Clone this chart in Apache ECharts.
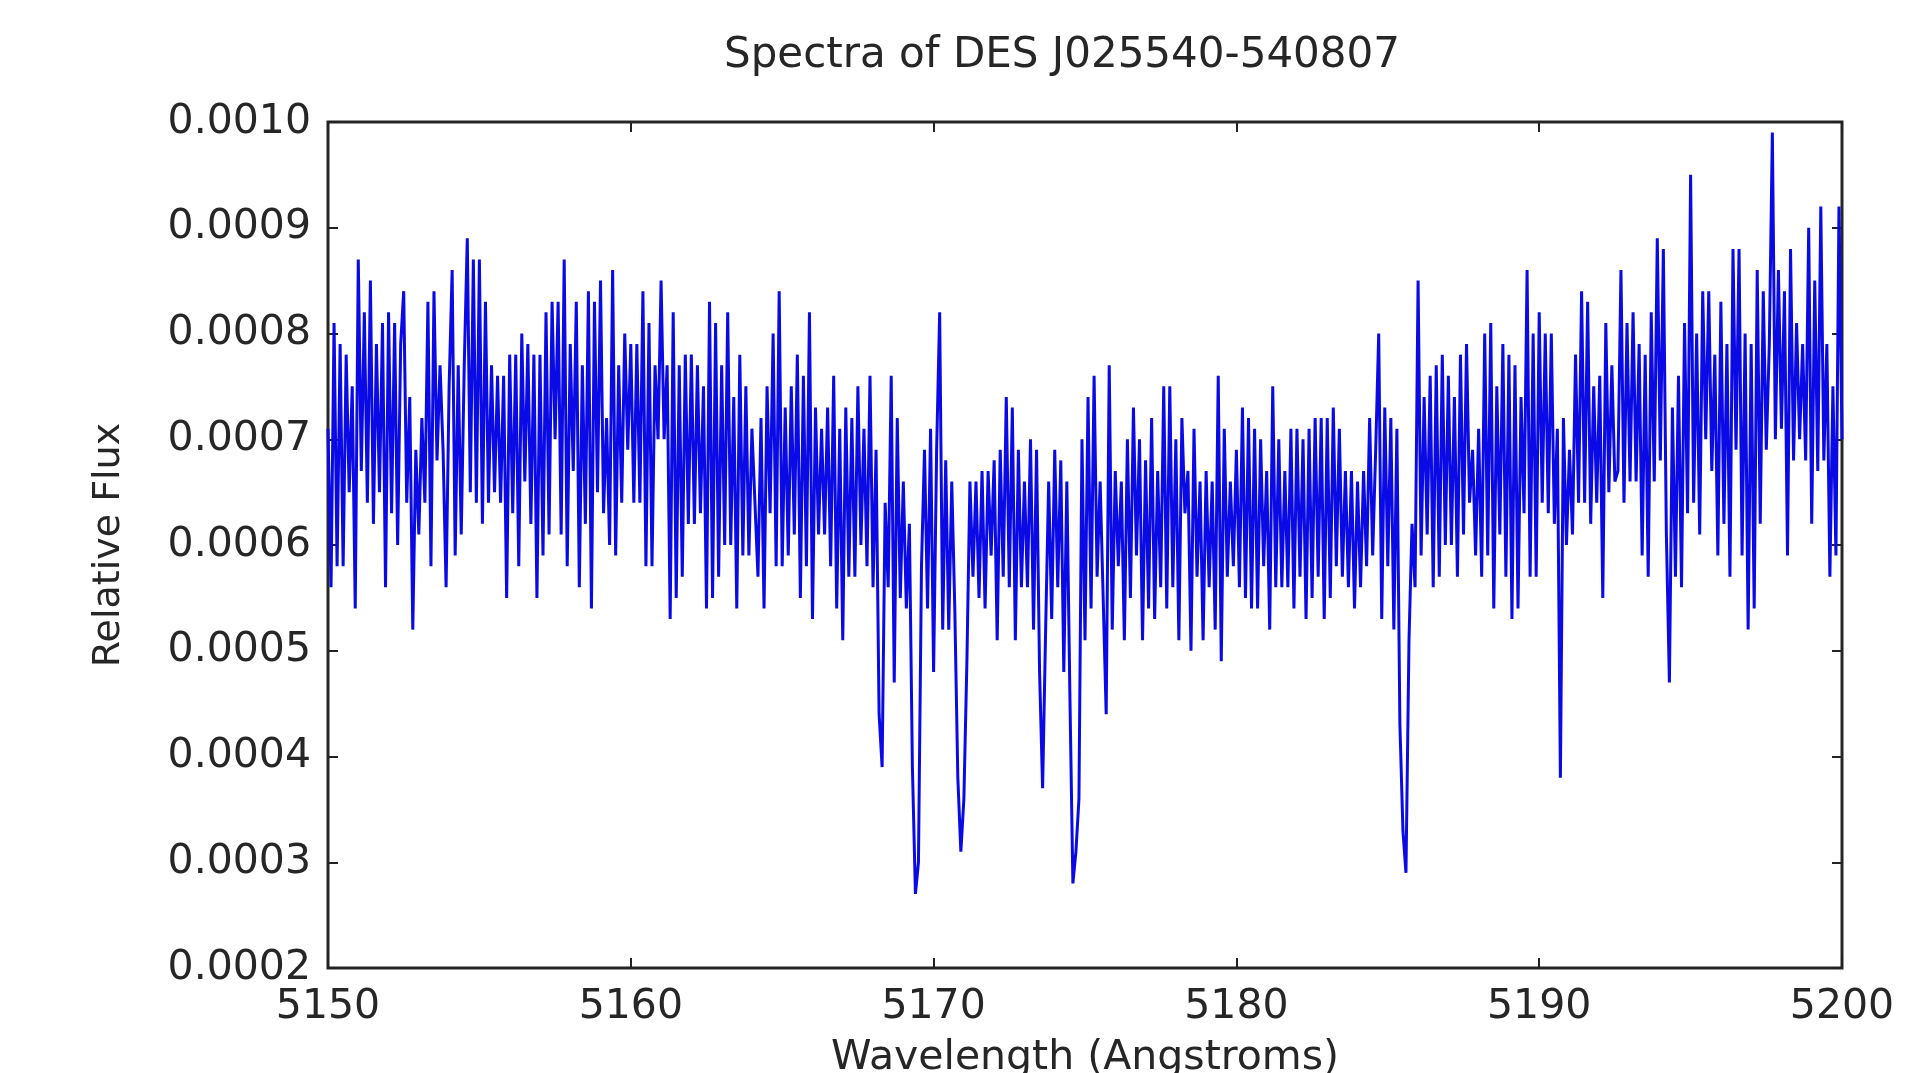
<!DOCTYPE html>
<html>
<head>
<meta charset="utf-8">
<script src="https://cdn.jsdelivr.net/npm/echarts@6/dist/echarts.min.js"></script>
<style>
html, body { margin: 0; padding: 0; background: #fff; }
#spectrum { width: 1910px; height: 1073px; }
</style>
</head>
<body>
<div id="spectrum"></div>
<script>
// wavelength grid of the spectrum (Angstroms)
var WAVE_START = 5150;
var WAVE_STEP = 0.1;
var FLUX_UNIT = 1e-5;

var flux5150 = [71,56,81,58,79,58,78,65,75,54, 87,67,82,64,85,62,79,65,81,56,
    82,63,81,60,79,84,64,74,52,69, 61,72,64,83,58,84,68,77,69,56,
    75,86,59,77,61,77,89,65,87,64, 87,62,83,64,77,65,76,64,76,55, 78,63,78,58];
var flux5156 = [80,66,79,62,78,55,78,59,82,61, 83,70,83,61,87,58,79,67,83,56,
    77,62,84,54,83,65,85,63,72,60, 86,59,77,64,80,69,79,64,79,64,
    84,58,81,58,77,70,85,70,77,53, 82,55,77,57,78,62,78,62,77,63, 75,54,83];
var flux5162 = [55,81,57,77,60,82,60,74,54,78, 59,75,59,71,64,57,72,54,75,63,
    80,58,84,58,73,59,75,61,78,55, 76,58,82,53,73,61,71,61,73,58,
    76,54,71,51,73,57,72,57,75,60, 71,58,76,56,69,44,39,64,56,76, 47,72];
var flux5168 = [55,66,54,62,39,27,30,58,69,54, 71,48,69,82,52,68,52,66,54,38,
    31,36,49,66,57,66,55,67,54,67, 59,68,51,69,57,74,56,73,51,69,
    56,66,56,70,52,69,48,37,52,66, 53,69,56,68,48,66,46,28,31,36, 70,51,74];
var flux5175 = [54,76,57,66,55,44,77,52,67,58, 66,51,70,55,73,59,70,51,68,54,
    72,53,67,56,75,54,75,56,70,51, 72,63,67,50,71,57,66,51,67,56,
    66,52,76,49,71,57,66,58,69,56, 73,55,72,54,71,54,70,58,67,52, 75,56,70];
var flux5181 = [56,67,56,71,54,71,57,70,53,71, 55,72,57,72,53,72,55,73,58,71,
    57,67,56,67,54,66,56,67,58,72, 59,69,80,53,73,58,72,52,71,43,
    33,29,51,62,56,85,59,74,61,76, 56,77,57,78,60,76,60,74,57,78, 61,79,64];
var flux5187 = [69,59,71,57,80,59,81,54,75,61, 79,57,78,53,77,54,74,63,86,57,
    80,57,82,64,80,63,80,62,71,38, 72,60,69,61,78,64,84,64,83,62,
    75,64,76,55,81,65,77,66,67,86, 64,81,66,82,66,79,59,78,57,82, 66,89];
var flux5194 = [68,88,61,47,73,57,76,56,81,63, 95,64,80,61,84,70,84,67,78,59,
    83,62,79,57,88,69,88,59,80,52, 79,54,86,62,84,69,79,99,70,86,
    71,84,59,88,68,81,70,79,68,90, 62,85,67,92,68,79,57,75,59,92, 70];

var xTicks = [5150, 5160, 5170, 5180, 5190, 5200];
var yTicks = [0.0002, 0.0003, 0.0004, 0.0005, 0.0006, 0.0007, 0.0008, 0.0009, 0.0010];

var flux = [].concat(flux5150, flux5156, flux5162, flux5168, flux5175, flux5181, flux5187, flux5194);
var points = flux.map(function (v, i) {
    return [WAVE_START + i * WAVE_STEP, v * FLUX_UNIT];
});

var textColor = '#262626';
var font = 'DejaVu Sans';

function frameAxis(pos, isX) {
    var ticks = isX ? xTicks : yTicks;
    return {
        type: 'value',
        position: pos,
        min: ticks[0],
        max: ticks[ticks.length - 1],
        interval: ticks[1] - ticks[0],
        axisLine: { show: false },
        axisTick: { show: true, inside: true, length: 10, lineStyle: { color: '#222', width: 2 } },
        axisLabel: { show: false },
        splitLine: { show: false }
    };
}

var bottomAxis = frameAxis('bottom', true);
bottomAxis.name = 'Wavelength (Angstroms)';
bottomAxis.nameLocation = 'middle';
bottomAxis.nameGap = 70;
bottomAxis.nameTextStyle = { fontFamily: font, fontSize: 41, color: textColor };
bottomAxis.axisLabel = {
    show: true, margin: 19, fontFamily: font, fontSize: 41, color: textColor,
    formatter: function (v) { return v.toFixed(0); }
};

var leftAxis = frameAxis('left', false);
leftAxis.name = 'Relative Flux';
leftAxis.nameLocation = 'middle';
leftAxis.nameGap = 200;
leftAxis.nameTextStyle = { fontFamily: font, fontSize: 38, color: textColor };
leftAxis.axisLabel = {
    show: true, margin: 17, fontFamily: font, fontSize: 41, color: textColor,
    formatter: function (v) { return v.toFixed(4); }
};

var myChart = echarts.init(document.getElementById('spectrum'));
myChart.setOption({
    animation: false,
    backgroundColor: '#fff',
    title: {
        text: 'Spectra of DES J025540-540807',
        left: 1057,
        top: 30,
        textAlign: 'center',
        textStyle: { fontFamily: font, fontSize: 42, fontWeight: 'normal', color: textColor }
    },
    grid: {
        left: 328, right: 68, top: 122, bottom: 105,
        outerBoundsMode: 'none',
        containLabel: false,
        show: true, borderColor: '#262626', borderWidth: 3, backgroundColor: '#fff'
    },
    xAxis: [bottomAxis, frameAxis('top', true)],
    yAxis: [leftAxis, frameAxis('right', false)],
    series: [
        {
            name: 'flux',
            type: 'line',
            xAxisIndex: 0,
            yAxisIndex: 0,
            showSymbol: false,
            sampling: null,
            lineStyle: { color: '#0a0ae6', width: 3 },
            data: points
        }
    ]
});
</script>
</body>
</html>
